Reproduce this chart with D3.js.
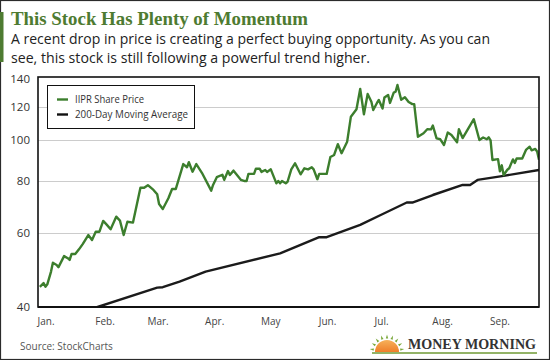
<!DOCTYPE html>
<html>
<head>
<meta charset="utf-8">
<script src="https://cdn.jsdelivr.net/npm/d3@7"></script>
<style>
  html, body { margin: 0; padding: 0; background: #fff; }
  svg { display: block; }
</style>
</head>
<body>
<svg id="chart" width="550" height="360"></svg>
<script>
// ---------------- DATA ----------------
const priceDates = [
  "2019-01-02","2019-01-04","2019-01-05","2019-01-06","2019-01-08","2019-01-09","2019-01-11","2019-01-12",
  "2019-01-15","2019-01-17","2019-01-18","2019-01-19","2019-01-21","2019-01-23","2019-01-25","2019-01-28",
  "2019-01-30","2019-02-01","2019-02-03","2019-02-05","2019-02-07","2019-02-09","2019-02-12","2019-02-14",
  "2019-02-16","2019-02-18","2019-02-21","2019-02-25","2019-02-27","2019-03-01","2019-03-04","2019-03-06",
  "2019-03-07","2019-03-09","2019-03-12","2019-03-14","2019-03-16","2019-03-20","2019-03-22","2019-03-23",
  "2019-03-25","2019-03-27","2019-03-30","2019-04-04","2019-04-05","2019-04-07","2019-04-10","2019-04-11",
  "2019-04-13","2019-04-14","2019-04-16","2019-04-20","2019-04-22","2019-04-23","2019-04-24","2019-04-27",
  "2019-04-28","2019-04-30","2019-05-01","2019-05-03","2019-05-04","2019-05-06","2019-05-09","2019-05-10",
  "2019-05-11","2019-05-12","2019-05-14","2019-05-15","2019-05-17","2019-05-19","2019-05-22","2019-05-24",
  "2019-05-26","2019-05-28","2019-05-29","2019-05-31","2019-06-01","2019-06-05","2019-06-07","2019-06-09",
  "2019-06-11","2019-06-13","2019-06-16","2019-06-18","2019-06-21","2019-06-23","2019-06-25","2019-06-27",
  "2019-06-29","2019-06-30","2019-07-02","2019-07-03","2019-07-05","2019-07-06","2019-07-08","2019-07-09",
  "2019-07-11","2019-07-12","2019-07-13","2019-07-15","2019-07-17","2019-07-19","2019-07-21","2019-07-22",
  "2019-07-24","2019-07-27","2019-07-29","2019-07-31","2019-08-01","2019-08-03","2019-08-05","2019-08-07",
  "2019-08-09","2019-08-11","2019-08-14","2019-08-15","2019-08-17","2019-08-23","2019-08-26","2019-08-28",
  "2019-08-30","2019-08-31","2019-09-01","2019-09-02","2019-09-04","2019-09-05","2019-09-06","2019-09-07",
  "2019-09-08","2019-09-10","2019-09-11","2019-09-13","2019-09-14","2019-09-15","2019-09-18","2019-09-20",
  "2019-09-22","2019-09-23","2019-09-25","2019-09-26","2019-09-27"
];
const priceValues = [
  44.7,45.6,44.7,45.3,48.6,51.0,50.4,49.8,
  52.9,52.3,51.8,53.5,53.5,54.9,56.5,59.4,
  57.8,60.5,60.5,64.2,62.8,61.3,65.7,64.3,
  59.4,63.9,63.6,77.0,77.0,78.1,76.1,74.3,
  70.4,68.5,72.7,76.5,76.5,87.7,86.2,88.6,
  84.1,87.7,83.6,75.8,78.2,81.6,82.7,80.4,
  84.4,82.6,84.6,80.4,79.9,79.9,83.1,83.1,
  85.5,85.5,84.0,84.9,84.0,85.2,78.9,79.9,
  78.9,79.9,78.9,79.6,85.2,88.1,82.9,85.7,
  85.2,86.2,85.2,80.7,83.1,83.1,91.2,92.2,
  97.8,93.1,99.2,113.8,118.5,132.5,115.3,128.9,
  123.5,118.0,122.7,124.7,119.0,126.4,128.2,122.7,
  129.9,130.5,135.4,124.9,126.6,123.3,121.9,121.9,
  101.9,103.9,106.2,106.1,108.4,101.0,100.5,97.4,
  104.3,102.9,98.9,106.2,101.2,112.2,100.1,101.5,
  100.5,101.6,99.9,89.7,90.0,90.1,84.3,87.1,
  82.6,85.0,85.7,90.0,88.2,90.4,90.4,94.8,
  96.5,94.6,95.3,94.0,89.8
];
const maDates = [
  "2019-01-02","2019-02-02","2019-03-06","2019-03-09","2019-03-18","2019-04-01","2019-05-11",
  "2019-06-01","2019-06-05","2019-06-23","2019-07-04","2019-07-18","2019-07-21","2019-08-01",
  "2019-08-17","2019-08-21","2019-08-25","2019-09-08","2019-09-27"
];
const maValues = [
  36.2,40.0,44.5,44.6,46.0,48.6,53.7,
  58.7,58.7,62.8,66.3,71.0,71.0,74.0,
  78.2,78.2,80.4,82.2,84.9
];
const yTicks = [40, 60, 80, 100, 120, 140];
const gridTicks = [60, 80, 100, 120];
const monthStarts = ["2019-01-01","2019-02-01","2019-03-01","2019-04-01","2019-05-01","2019-06-01","2019-07-01","2019-08-01","2019-09-01"];
const monthLabels = ["Jan.","Feb.","Mar.","Apr.","May","Jun.","Jul.","Aug.","Sep."];
const seriesNames = ["IIPR Share Price", "200-Day Moving Average"];
const titleText = "This Stock Has Plenty of Momentum";
const subtitleLines = [
  "A recent drop in price is creating a perfect buying opportunity. As you can",
  "see, this stock is still following a powerful trend higher."
];
const sourceText = "Source: StockCharts";
const brandText = "MONEY MORNING";

// ---------------- LAYOUT ----------------
const W = 550, H = 360;
const plot = { left: 38, right: 539, top: 77, bottom: 307 };
const GREEN = "#3c7e2d";
const TITLE_GREEN = "#4e7b31";
const SANS = "'Open Sans', 'Lato', sans-serif";

const parse = d3.utcParse("%Y-%m-%d");
const svg = d3.select("#chart");

const x = d3.scaleUtc()
  .domain([parse("2019-01-01"), parse("2019-09-27")])
  .range([plot.left, plot.right]);
const y = d3.scaleLog()
  .domain([40, 141.5])
  .range([plot.bottom, plot.top]);

// outer border
svg.append("rect").attr("x", 0.5).attr("y", 0.5).attr("width", W - 1).attr("height", H - 1)
  .attr("fill", "#fff").attr("stroke", "#2b2b2b").attr("stroke-width", 1.2);

// left green accent bar
svg.append("rect").attr("x", 0).attr("y", 12).attr("width", 3.5).attr("height", 50).attr("fill", TITLE_GREEN);

// title
svg.append("text").attr("x", 11).attr("y", 24.5)
  .attr("font-family", "'Liberation Serif', 'DejaVu Serif', serif")
  .attr("font-weight", "bold").attr("font-size", 19.5).attr("fill", TITLE_GREEN)
  .attr("textLength", 297).attr("lengthAdjust", "spacingAndGlyphs")
  .text(titleText);

// subtitle
const subWidths = [479, 359];
subtitleLines.forEach((t, i) => {
  svg.append("text").attr("x", 11).attr("y", 44 + i * 19)
    .attr("font-family", SANS).attr("font-size", 14).attr("fill", "#222")
    .attr("textLength", subWidths[i]).attr("lengthAdjust", "spacingAndGlyphs")
    .text(t);
});

// gridlines
svg.append("g").selectAll("line").data(gridTicks).join("line")
  .attr("x1", plot.left).attr("x2", plot.right)
  .attr("y1", d => Math.round(y(d)) + 0.5).attr("y2", d => Math.round(y(d)) + 0.5)
  .attr("stroke", "#cccccc").attr("stroke-width", 1);

// clip
svg.append("clipPath").attr("id", "clip").append("rect")
  .attr("x", plot.left).attr("y", plot.top)
  .attr("width", plot.right - plot.left).attr("height", plot.bottom - plot.top);

const line = d3.line().x(d => x(d.date)).y(d => y(d.value)).curve(d3.curveLinear);

const maData = maDates.map((d, i) => ({ date: parse(d), value: maValues[i] }));
const priceData = priceDates.map((d, i) => ({ date: parse(d), value: priceValues[i] }));

svg.append("path").datum(maData).attr("clip-path", "url(#clip)")
  .attr("d", line).attr("fill", "none").attr("stroke", "#1b1b1b")
  .attr("stroke-width", 2.4).attr("stroke-linejoin", "round");

svg.append("path").datum(priceData).attr("clip-path", "url(#clip)")
  .attr("d", line).attr("fill", "none").attr("stroke", GREEN)
  .attr("stroke-width", 2.4).attr("stroke-linejoin", "round");

// frame
svg.append("rect").attr("x", plot.left).attr("y", plot.top)
  .attr("width", plot.right - plot.left).attr("height", plot.bottom - plot.top)
  .attr("fill", "none").attr("stroke", "#111").attr("stroke-width", 1.6);
svg.append("line").attr("x1", plot.left).attr("x2", plot.right)
  .attr("y1", plot.bottom).attr("y2", plot.bottom)
  .attr("stroke", "#111").attr("stroke-width", 2.2);

// y-axis labels
const yAxis = d3.axisLeft(y).tickValues(yTicks).tickFormat(d3.format("d")).tickSize(0).tickPadding(8);
const gy = svg.append("g").attr("transform", `translate(${plot.left},0)`).call(yAxis);
gy.select(".domain").remove();
gy.selectAll("text").attr("font-family", SANS).attr("font-size", 11.5).attr("fill", "#333");

// x-axis labels
const xAxis = d3.axisBottom(x).tickValues(monthStarts.map(parse))
  .tickFormat((d, i) => monthLabels[i]).tickSize(0).tickPadding(11);
const gx = svg.append("g").attr("transform", `translate(0,${plot.bottom})`).call(xAxis);
gx.select(".domain").remove();
gx.selectAll("text").attr("text-anchor", "start").attr("dx", "-1")
  .attr("font-family", SANS).attr("font-size", 10).attr("fill", "#444");

// legend
const lg = svg.append("g");
lg.append("rect").attr("x", 47.5).attr("y", 85.5).attr("width", 147).attr("height", 43)
  .attr("fill", "#fff").attr("stroke", "#111").attr("stroke-width", 1);
const legendColors = [GREEN, "#111"];
const legendWidths = [69, 113];
seriesNames.forEach((n, i) => {
  const ly = 99.5 + i * 15;
  lg.append("line").attr("x1", 57).attr("x2", 68).attr("y1", ly).attr("y2", ly)
    .attr("stroke", legendColors[i]).attr("stroke-width", 2.4);
  lg.append("text").attr("x", 75).attr("y", ly).attr("dy", "0.35em")
    .attr("font-family", SANS).attr("font-size", 10.5).attr("fill", "#333")
    .attr("textLength", legendWidths[i]).attr("lengthAdjust", "spacingAndGlyphs")
    .text(n);
});

// source
svg.append("text").attr("x", 20).attr("y", 350)
  .attr("font-family", SANS).attr("font-size", 10).attr("fill", "#555")
  .text(sourceText);

// brand logo
const logo = svg.append("g");
const grad = svg.append("defs").append("linearGradient").attr("id", "sun")
  .attr("x1", 0).attr("y1", 0).attr("x2", 0).attr("y2", 1);
grad.append("stop").attr("offset", "0%").attr("stop-color", "#f6b15a");
grad.append("stop").attr("offset", "100%").attr("stop-color", "#ef7f2a");
const cx = 387, cy = 352;
logo.append("path")
  .attr("d", d3.arc()({ innerRadius: 0, outerRadius: 12, startAngle: -Math.PI / 2, endAngle: Math.PI / 2 }))
  .attr("transform", `translate(${cx},${cy})`).attr("fill", "url(#sun)");
d3.range(9).forEach(k => {
  const a = -Math.PI / 2 + (k + 0.5) * Math.PI / 9;
  const r1 = 13.5, r2 = 17.5;
  const p = (r, da) => [cx + r * Math.sin(a + da), cy - r * Math.cos(a + da)];
  logo.append("path")
    .attr("d", d3.line()([p(r1, -0.09), p(r2, 0), p(r1, 0.09)]) + "Z")
    .attr("fill", "#7aa83a");
});
logo.append("line").attr("x1", 372).attr("x2", 537).attr("y1", 353).attr("y2", 353)
  .attr("stroke", "#6f9a35").attr("stroke-width", 1.5);
logo.append("text").attr("x", 408).attr("y", 349)
  .attr("font-family", "'Liberation Serif', 'DejaVu Serif', serif").attr("font-weight", "bold")
  .attr("font-size", 14.5).attr("fill", "#333")
  .attr("textLength", 128).attr("lengthAdjust", "spacingAndGlyphs")
  .text(brandText);
</script>
</body>
</html>
